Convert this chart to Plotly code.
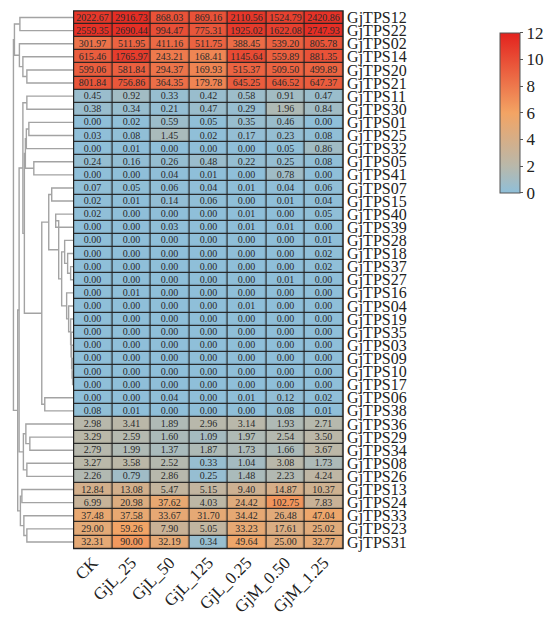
import numpy as np
import plotly.graph_objects as go

samples = ["CK", "GjL_25", "GjL_50", "GjL_125", "GjL_0.25", "GjM_0.50", "GjM_1.25"]

genes = ["GjTPS12", "GjTPS22", "GjTPS02", "GjTPS14", "GjTPS20", "GjTPS21", "GjTPS11",
         "GjTPS30", "GjTPS01", "GjTPS25", "GjTPS32", "GjTPS05", "GjTPS41", "GjTPS07",
         "GjTPS15", "GjTPS40", "GjTPS39", "GjTPS28", "GjTPS18", "GjTPS37", "GjTPS27",
         "GjTPS16", "GjTPS04", "GjTPS19", "GjTPS35", "GjTPS03", "GjTPS09", "GjTPS10",
         "GjTPS17", "GjTPS06", "GjTPS38", "GjTPS36", "GjTPS29", "GjTPS34", "GjTPS08",
         "GjTPS26", "GjTPS13", "GjTPS24", "GjTPS33", "GjTPS23", "GjTPS31"]

values = [
    [2022.67, 2916.73, 868.03, 869.16, 2110.56, 1524.79, 2420.86],
    [2559.35, 2690.44, 994.47, 775.31, 1925.02, 1622.08, 2747.93],
    [301.97, 511.95, 411.16, 511.75, 388.45, 539.20, 805.78],
    [615.46, 1765.97, 243.21, 168.41, 1145.64, 559.89, 881.35],
    [599.06, 581.84, 294.37, 169.93, 515.37, 509.50, 499.89],
    [801.84, 756.86, 364.35, 179.78, 645.25, 646.52, 647.37],
    [0.45, 0.92, 0.33, 0.42, 0.58, 0.91, 0.47],
    [0.38, 0.34, 0.21, 0.47, 0.29, 1.96, 0.84],
    [0.00, 0.02, 0.59, 0.05, 0.35, 0.46, 0.00],
    [0.03, 0.08, 1.45, 0.02, 0.17, 0.23, 0.08],
    [0.00, 0.01, 0.00, 0.00, 0.00, 0.05, 0.86],
    [0.24, 0.16, 0.26, 0.48, 0.22, 0.25, 0.08],
    [0.00, 0.00, 0.04, 0.01, 0.00, 0.78, 0.00],
    [0.07, 0.05, 0.06, 0.04, 0.01, 0.04, 0.06],
    [0.02, 0.01, 0.14, 0.06, 0.00, 0.01, 0.04],
    [0.02, 0.00, 0.00, 0.00, 0.01, 0.00, 0.05],
    [0.00, 0.00, 0.03, 0.00, 0.01, 0.01, 0.00],
    [0.00, 0.00, 0.00, 0.00, 0.00, 0.00, 0.01],
    [0.00, 0.00, 0.00, 0.00, 0.00, 0.00, 0.02],
    [0.00, 0.00, 0.00, 0.00, 0.00, 0.00, 0.02],
    [0.00, 0.00, 0.00, 0.00, 0.00, 0.01, 0.00],
    [0.00, 0.01, 0.00, 0.00, 0.00, 0.00, 0.00],
    [0.00, 0.00, 0.00, 0.00, 0.01, 0.00, 0.00],
    [0.00, 0.00, 0.00, 0.00, 0.00, 0.00, 0.00],
    [0.00, 0.00, 0.00, 0.00, 0.00, 0.00, 0.00],
    [0.00, 0.00, 0.00, 0.00, 0.00, 0.00, 0.00],
    [0.00, 0.00, 0.00, 0.00, 0.00, 0.00, 0.00],
    [0.00, 0.00, 0.00, 0.00, 0.00, 0.00, 0.00],
    [0.00, 0.00, 0.00, 0.00, 0.00, 0.00, 0.00],
    [0.00, 0.00, 0.04, 0.00, 0.01, 0.12, 0.02],
    [0.08, 0.01, 0.00, 0.00, 0.00, 0.08, 0.01],
    [2.98, 3.41, 1.89, 2.96, 3.14, 1.93, 2.71],
    [3.29, 2.59, 1.60, 1.09, 1.97, 2.54, 3.50],
    [2.79, 1.99, 1.37, 1.87, 1.73, 1.66, 3.67],
    [3.27, 3.58, 2.52, 0.33, 1.04, 3.08, 1.73],
    [2.26, 0.79, 2.86, 0.25, 1.48, 2.23, 4.24],
    [12.84, 13.08, 5.47, 5.15, 9.40, 14.87, 10.37],
    [6.99, 20.98, 37.62, 4.03, 24.42, 102.75, 7.83],
    [37.48, 37.58, 33.67, 31.70, 34.42, 26.48, 47.04],
    [29.00, 59.26, 7.90, 5.05, 33.23, 17.61, 25.02],
    [32.31, 90.00, 32.19, 0.34, 49.64, 25.00, 32.77],
]

colorbar_ticks = [0, 2, 4, 6, 8, 10, 12]

# row dendrogram: (node, left child, right child, merge height)
merges = [
    ("m0", 0, 1, 54), ("m1", 4, 5, 47), ("m2", 3, "m1", 51), ("m3", 2, "m2", 54.5),
    ("A", "m0", "m3", 59.5),
    ("b1", 6, 7, 47), ("b2", 8, 9, 45), ("b3", "b2", 10, 47.5), ("b4", 11, 12, 40),
    ("b5", "b3", "b4", 48.5),
    ("l1", 13, 14, 22), ("l2", 15, 16, 18),
    ("z1", 19, 20, 3), ("z2", 18, "z1", 6), ("z3", 17, "z2", 9),
    ("z4", 27, 28, 1), ("z5", 26, "z4", 1.5), ("z6", 25, "z5", 2), ("z7", 24, "z6", 2.5),
    ("z8", 23, "z7", 3), ("z9", 22, "z8", 5), ("z10", 21, "z9", 7), ("z11", "z3", "z10", 12),
    ("l3", "l2", "z11", 15), ("l4", "l1", "l3", 25), ("p", 29, 30, 29), ("L", "l4", "p", 32),
    ("Br", "b5", "L", 49.5), ("B", "b1", "Br", 51),
    ("c1", 32, 33, 44), ("c2", 31, "c1", 48), ("c3", 34, 35, 47), ("c4", "c2", "c3", 50.5),
    ("c5", 36, 37, 52), ("c6", 39, 40, 47), ("c7", 38, "c6", 50), ("c8", "c5", "c7", 53.5),
    ("X", "B", "c4", 54.8), ("BC", "X", "c8", 56.2), ("root", "A", "BC", 60.5),
]

W, H = 545, 617
hm_left, hm_right, hm_top, hm_bot = 72, 343, 9, 551
dg_left = 10
dg_max = 62

vals = np.array(values)
z = np.log2(vals + 1)
text = [[f"{v:.2f}" for v in row] for row in values]

serif = "Liberation Serif"
colorscale = [[0.0, "#8fbfd9"], [0.17, "#b9b8aa"], [0.5, "#f3a464"], [1.0, "#e3221e"]]

fig = go.Figure()

fig.add_trace(go.Heatmap(
    z=z, x=list(range(len(samples))), y=list(range(len(genes))),
    text=text, texttemplate="%{text}",
    textfont=dict(family=serif, size=10, color="#2a2a2a"),
    colorscale=colorscale, zmin=0, zmax=12,
    xgap=1.2, ygap=1.2, hoverinfo="skip",
    colorbar=dict(
        x=501 / W, xanchor="left", xpad=0, ypad=0,
        y=1 - 111.7 / H, yanchor="middle",
        len=160, lenmode="pixels", thickness=20, thicknessmode="pixels",
        outlinewidth=1, outlinecolor="#555",
        tickvals=colorbar_ticks, ticks="outside", ticklen=3, tickcolor="#555",
        tickfont=dict(family=serif, size=17, color="#222"),
    ),
    xaxis="x", yaxis="y",
))

# dendrogram geometry from merges
pos = {i: (0.0, float(i)) for i in range(len(genes))}
dx, dy = [], []
for name, a, b, h in merges:
    xa, ya = pos[a]
    xb, yb = pos[b]
    dx += [xa, h, h, xb, None]
    dy += [ya, ya, yb, yb, None]
    pos[name] = (h, (ya + yb) / 2)

fig.add_trace(go.Scatter(
    x=dx, y=dy, mode="lines", line=dict(color="#a3a3a3", width=1.4),
    xaxis="x2", yaxis="y", hoverinfo="skip", showlegend=False,
))

fig.update_layout(
    width=W, height=H, margin=dict(l=0, r=0, t=0, b=0),
    paper_bgcolor="white", plot_bgcolor="white", showlegend=False,
    xaxis=dict(
        domain=[hm_left / W, hm_right / W], range=[-0.5, len(samples) - 0.5],
        tickvals=list(range(len(samples))), ticktext=samples, tickangle=-45,
        tickfont=dict(family=serif, size=17, color="#222"),
        showgrid=False, zeroline=False, showline=False, ticks="", anchor="y",
    ),
    yaxis=dict(
        domain=[1 - hm_bot / H, 1 - hm_top / H], range=[len(genes) - 0.5, -0.5],
        tickvals=list(range(len(genes))), ticktext=genes, side="right",
        tickfont=dict(family=serif, size=16, color="#222"),
        showgrid=False, zeroline=False, showline=False, ticks="", anchor="x",
        ticklabelstandoff=3,
    ),
    xaxis2=dict(
        domain=[dg_left / W, hm_left / W], range=[dg_max, 0],
        showgrid=False, zeroline=False, showline=False, showticklabels=False,
        ticks="", anchor="y",
    ),
    shapes=[
        dict(type="rect", xref="x domain", yref="y domain", x0=0, x1=1, y0=0, y1=1,
             fillcolor="#222", line=dict(width=0), layer="below"),
        dict(type="rect", xref="x domain", yref="y domain", x0=0, x1=1, y0=0, y1=1,
             fillcolor="rgba(0,0,0,0)", line=dict(color="#222", width=1.2), layer="above"),
    ],
)

fig.write_html("out.html")
